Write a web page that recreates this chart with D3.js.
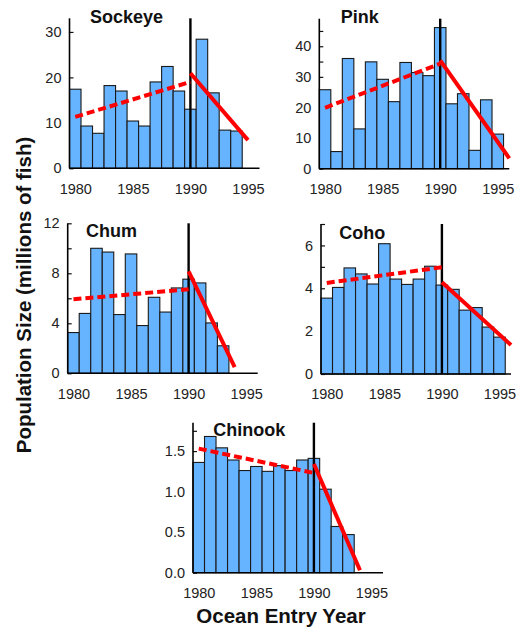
<!DOCTYPE html>
<html>
  <head>
    <meta charset="utf-8">
    <title>Salmon population size by ocean entry year</title>
    <script src="https://cdn.jsdelivr.net/npm/d3@7"></script>
    <style>
      body { margin: 0; background: #fff; }
      svg { display: block; font-family: "Liberation Sans", Arial, sans-serif; }
      .tick text { font-size: 14.5px; fill: #222; }
      .tick line { stroke: #111; stroke-width: 1.2; }
      .domain { stroke: none; }
      .title { font-size: 18px; font-weight: bold; fill: #111; }
      .axisTitle { font-size: 20.5px; font-weight: bold; fill: #111; }
    </style>
  </head>
  <body>
    <svg id="chart" width="516" height="631"></svg>

    <script>
      // data: population size (millions of fish) by ocean entry year
      years = [1980, 1981, 1982, 1983, 1984, 1985, 1986, 1987, 1988, 1989, 1990, 1991, 1992, 1993, 1994, 1995];
      sockeye = [17.4, 9.3, 7.7, 18.2, 17.0, 10.4, 9.3, 19.0, 22.4, 17.0, 13.0, 28.4, 16.6, 8.4, 8.2, 0];
      pink = [25.8, 5.6, 36.0, 13.0, 34.9, 29.2, 21.9, 34.7, 31.4, 30.4, 46.1, 21.2, 24.5, 6.0, 22.5, 11.3];
      chum = [3.26, 4.79, 10.0, 9.7, 4.7, 9.55, 3.82, 6.08, 4.9, 6.83, 7.53, 7.23, 4.03, 2.2, 0, 0];
      coho = [3.54, 4.04, 4.95, 4.67, 4.2, 6.08, 4.43, 4.18, 4.43, 5.03, 4.15, 3.95, 2.98, 3.1, 2.19, 1.72];
      chinook = [1.36, 1.68, 1.54, 1.39, 1.26, 1.31, 1.25, 1.32, 1.26, 1.39, 1.41, 1.03, 0.57, 0.47, 0, 0];

      // fitted trends before and after 1990 ([year, value] end points)
      sockeyeBefore = [[1980, 11.3], [1990, 19.0]];
      sockeyeAfter = [[1990, 20.9], [1995, 6.2]];
      pinkBefore = [[1980, 19.9], [1990, 34.3]];
      pinkAfter = [[1990, 35.4], [1996, 3.4]];
      chumBefore = [[1980, 5.92], [1990, 6.72]];
      chumAfter = [[1990, 8.15], [1994, 0.5]];
      cohoBefore = [[1980, 4.25], [1990, 4.98]];
      cohoAfter = [[1990, 4.28], [1996, 1.35]];
      chinookBefore = [[1980, 1.53], [1990, 1.23]];
      chinookAfter = [[1990, 1.34], [1994, 0.03]];

      // tick labels
      xTicks = [1980, 1985, 1990, 1995];
      sockeyeTicks = [0, 10, 20, 30];
      pinkTicks = [0, 10, 20, 30, 40];
      chumTicks = [0, 4, 8, 12];
      cohoTicks = [0, 2, 4, 6];
      chinookTicks = [0, 0.5, 1.0, 1.5];
      sockeyeMinor = [];
      pinkMinor = [5, 15, 25, 35, 45];
      chumMinor = [2, 6, 10];
      cohoMinor = [1, 3, 5, 7];
      chinookMinor = [0.25, 0.75, 1.25, 1.75];
      breakYear = 1990;

      // panel layout
      panelWidth = 190;
      panelHeight = 150;
      panels = [
        { name: "Sockeye", values: sockeye, before: sockeyeBefore, after: sockeyeAfter, max: 33,
          ticks: sockeyeTicks, minor: sockeyeMinor, format: "d", left: 69.5, top: 18.3, tx: 20.5, ty: 4.4 },
        { name: "Pink", values: pink, before: pinkBefore, after: pinkAfter, max: 49,
          ticks: pinkTicks, minor: pinkMinor, format: "d", left: 319.3, top: 18.7, tx: 21.4, ty: 4 },
        { name: "Chum", values: chum, before: chumBefore, after: chumAfter, max: 12,
          ticks: chumTicks, minor: chumMinor, format: "d", left: 67.7, top: 223.3, tx: 18.3, ty: 13.4 },
        { name: "Coho", values: coho, before: cohoBefore, after: cohoAfter, max: 7,
          ticks: cohoTicks, minor: cohoMinor, format: "d", left: 321, top: 224, tx: 18.3, ty: 15 },
        { name: "Chinook", values: chinook, before: chinookBefore, after: chinookAfter, max: 1.85,
          ticks: chinookTicks, minor: chinookMinor, format: ".1f", left: 193, top: 422.7, tx: 20.3, ty: 13 }
      ];

      chart = d3.select("#chart");
      chart.append("rect")
        .attr("width", 516)
        .attr("height", 631)
        .attr("fill", "#fff");

      panels.forEach(drawPanel);

      // shared axis titles
      chart.append("text")
        .attr("class", "axisTitle")
        .attr("text-anchor", "middle")
        .attr("transform", "translate(31, 295) rotate(-90)")
        .text("Population Size (millions of fish)");

      chart.append("text")
        .attr("class", "axisTitle")
        .attr("text-anchor", "middle")
        .attr("x", 281)
        .attr("y", 623)
        .text("Ocean Entry Year");

      function drawPanel(p) {
        g = chart.append("g")
          .attr("transform", "translate(" + p.left + ", " + p.top + ")");

        x = d3.scaleLinear()
          .domain([1979.5, 1996])
          .range([0, panelWidth]);
        y = d3.scaleLinear()
          .domain([0, p.max])
          .range([panelHeight, 0]);
        barWidth = x(1981) - x(1980);

        // inward ticks sit behind the bars
        g.append("g")
          .call(d3.axisLeft(y)
            .tickValues(p.minor)
            .tickSize(-4)
            .tickFormat(""));
        g.append("g")
          .call(d3.axisLeft(y)
            .tickValues(p.ticks)
            .tickSize(-4)
            .tickPadding(8)
            .tickFormat(d3.format(p.format)));

        g.append("g")
          .attr("transform", "translate(0, " + panelHeight + ")")
          .call(d3.axisBottom(x)
            .tickValues(xTicks)
            .tickSize(0)
            .tickPadding(15)
            .tickFormat(d3.format("d")));

        g.selectAll(".bar")
          .data(p.values)
          .enter().append("rect")
            .attr("class", "bar")
            .attr("x", function(d, i) { return x(years[i]) - barWidth / 2; })
            .attr("y", function(d) { return y(d); })
            .attr("width", barWidth)
            .attr("height", function(d) { return y(0) - y(d); })
            .attr("fill", "#66b3ff")
            .attr("stroke", "#1a1a1a")
            .attr("stroke-width", 1.1);

        // axis lines
        g.append("line")
          .attr("x1", 0).attr("x2", 0)
          .attr("y1", 0).attr("y2", y(0))
          .attr("stroke", "#000")
          .attr("stroke-width", 1.6);
        g.append("line")
          .attr("x1", 0).attr("x2", panelWidth)
          .attr("y1", y(0)).attr("y2", y(0))
          .attr("stroke", "#000")
          .attr("stroke-width", 1.4);

        // 1990 marker
        g.append("line")
          .attr("x1", x(breakYear)).attr("x2", x(breakYear))
          .attr("y1", 0).attr("y2", y(0))
          .attr("stroke", "#000")
          .attr("stroke-width", 2.4);

        line = d3.line()
          .x(function(d) { return x(d[0]); })
          .y(function(d) { return y(d[1]); });

        g.append("path")
          .attr("d", line(p.before))
          .attr("fill", "none")
          .attr("stroke", "#ff0000")
          .attr("stroke-width", 4)
          .attr("stroke-dasharray", "8,4");
        g.append("path")
          .attr("d", line(p.after))
          .attr("fill", "none")
          .attr("stroke", "#ff0000")
          .attr("stroke-width", 4);

        g.append("text")
          .attr("class", "title")
          .attr("x", p.tx)
          .attr("y", p.ty)
          .text(p.name);
      }
    </script>
  </body>
</html>
